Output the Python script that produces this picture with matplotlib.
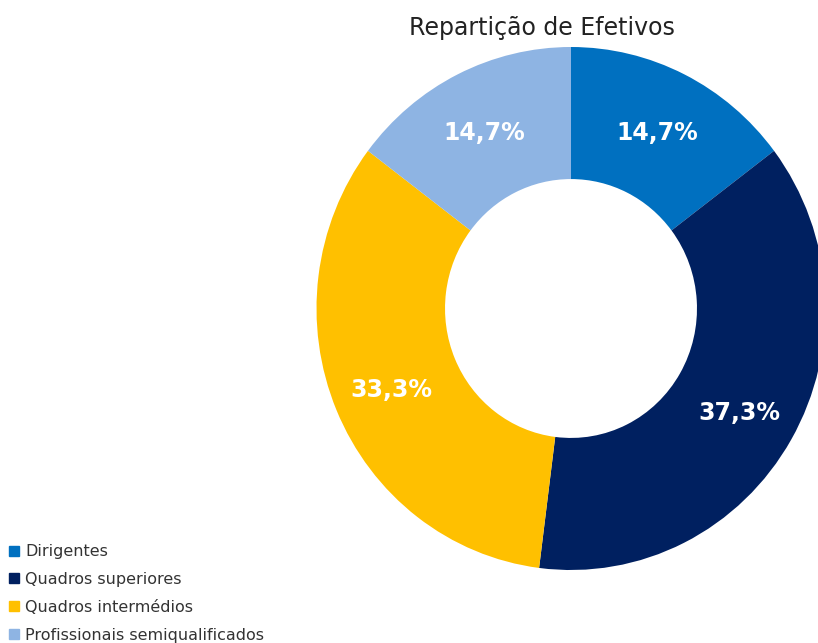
import matplotlib
matplotlib.use("Agg")
import matplotlib.pyplot as plt
from matplotlib.lines import Line2D
import numpy as np

categorias = ["Dirigentes", "Quadros superiores", "Quadros intermédios",
              "Profissionais semiqualificados"]
valores = [14.7, 37.3, 33.3, 14.7]
rotulos = ["14,7%", "37,3%", "33,3%", "14,7%"]
cores = ["#0070C0", "#002060", "#FFC000", "#8EB4E3"]

plt.rcParams["font.family"] = "DejaVu Sans"

fig = plt.figure(figsize=(8.18, 6.43), dpi=100)
# donut ligeiramente oval, como no original
ax = fig.add_axes([316.5 / 818, (643 - 570) / 643, 509 / 818, 523 / 643])

wedges, _ = ax.pie(valores, colors=cores, startangle=90, counterclock=False,
                   radius=1, wedgeprops=dict(width=0.505, edgecolor="none"))

# rótulos a meio do anel
ang0 = 90
for v, r in zip(valores, rotulos):
    meio = np.deg2rad(ang0 - v * 3.6 / 2)
    ax.text(0.765 * np.cos(meio), 0.765 * np.sin(meio) - 0.015, r, ha="center",
            va="center", color="white", fontsize=17, fontweight="bold")
    ang0 -= v * 3.6

ax.set_xlim(-1, 1)
ax.set_ylim(-1, 1)
ax.set_aspect("auto")
ax.axis("off")

fig.text(542 / 818, 1 - 28 / 643, "Repartição de Efetivos", ha="center", va="center",
         fontsize=17, color="#222222")

handles = [Line2D([], [], marker="s", linestyle="none", color=c, markersize=6.5)
           for c in cores]
fig.legend(handles, categorias, loc="upper left", bbox_to_anchor=(6 / 818, 1 - 541 / 643),
           frameon=False, fontsize=11.5, handlelength=0.6, handletextpad=0.4,
           labelspacing=0.8, borderaxespad=0, borderpad=0.2, labelcolor="#333333")

fig.savefig("out.png", dpi=100)
